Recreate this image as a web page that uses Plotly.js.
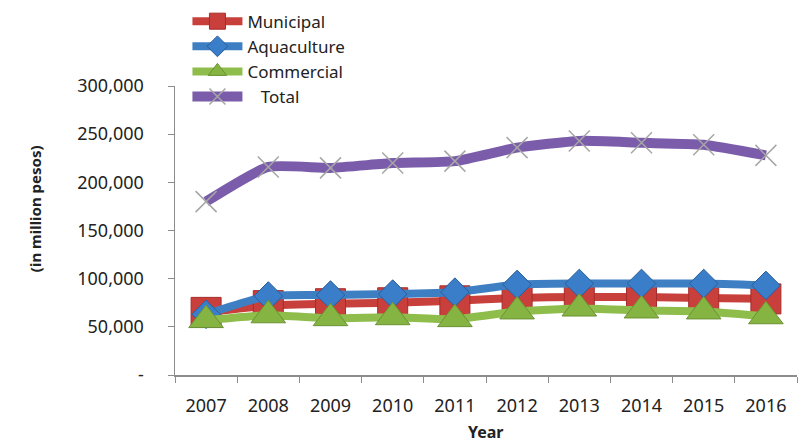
<!DOCTYPE html>
<html>
<head>
<meta charset="utf-8">
<script src="https://cdn.plot.ly/plotly-3.0.1.min.js"></script>
<style>html,body{margin:0;padding:0;background:#fff;}#chart{width:798px;height:444px;}</style>
</head>
<body>
<div id="chart"></div>
<script>
var years = ['2007','2008','2009','2010','2011','2012','2013','2014','2015','2016'];
var municipal   = [65000, 72000, 74000, 75000, 77000, 80000, 81000, 81000, 80000, 79000];
var aquaculture = [63000, 82000, 83000, 84000, 86000, 94000, 95000, 95000, 95000, 93000];
var commercial  = [57000, 62000, 59000, 60000, 58000, 66000, 69000, 67000, 66000, 61000];
var total       = [180000, 216000, 215000, 220000, 222000, 236000, 243000, 241000, 239000, 228000];
var yTickVals = [0, 50000, 100000, 150000, 200000, 250000, 300000];
var yTickText = ['-', '50,000', '100,000', '150,000', '200,000', '250,000', '300,000'];

var FONT = 'Noto Sans, Open Sans, sans-serif';

var traces = [
  {x: years, y: municipal, name: 'Municipal', type: 'scatter', mode: 'lines+markers',
   line: {color: '#C8403C', width: 8, shape: 'spline', smoothing: 0.5},
   marker: {symbol: 'square', size: 30, color: '#C93F3B', line: {color: '#A52C2A', width: 1}}},
  {x: years, y: aquaculture, name: 'Aquaculture', type: 'scatter', mode: 'lines+markers',
   line: {color: '#3E7FC4', width: 8, shape: 'spline', smoothing: 0.5},
   marker: {symbol: 'diamond', size: 22, color: '#3A7DC9', line: {color: '#2A5E9A', width: 1}}},
  {x: years, y: commercial, name: 'Commercial', type: 'scatter', mode: 'lines+markers',
   line: {color: '#8FBD4C', width: 8, shape: 'spline', smoothing: 0.5},
   marker: {symbol: 'triangle-up', size: 30, color: '#86B442', line: {color: '#6A9232', width: 1}}},
  {x: years, y: total, name: '\u00a0\u00a0\u00a0Total', type: 'scatter', mode: 'lines+markers',
   line: {color: '#7A5CAA', width: 10, shape: 'spline', smoothing: 0.5},
   marker: {symbol: 'x-thin', size: 21, color: '#a0a0a0', line: {color: '#a6a6a6', width: 1.5}}}
];

var layout = {
  width: 798, height: 444,
  margin: {l: 175, r: 1, t: 86, b: 69, pad: 0},
  paper_bgcolor: '#ffffff', plot_bgcolor: '#ffffff',
  font: {family: FONT, size: 18, color: '#222222'},
  showlegend: true,
  legend: {x: 0.02, y: 1.285, xanchor: 'left', yanchor: 'top', bgcolor: 'rgba(0,0,0,0)',
           font: {family: FONT, size: 17, color: '#222222'}, itemwidth: 50, tracegroupgap: 0},
  xaxis: {type: 'category', range: [-0.5, 9.5], showgrid: false, zeroline: false,
          showline: true, linecolor: '#8c8c8c', linewidth: 1.5,
          ticks: 'outside', ticklen: 6, tickcolor: '#8c8c8c', tickson: 'boundaries',
          ticklabelstandoff: 14,
          tickfont: {family: FONT, size: 18, color: '#222222'}},
  yaxis: {range: [0, 300000], showgrid: false, zeroline: false,
          showline: true, linecolor: '#8c8c8c', linewidth: 1.5,
          ticks: 'outside', ticklen: 6, tickcolor: '#8c8c8c',
          tickvals: yTickVals, ticktext: yTickText, ticklabelstandoff: 20,
          tickfont: {family: FONT, size: 18, color: '#222222'}},
  annotations: [
    {text: '<b>Year</b>', xref: 'paper', yref: 'paper', x: 0.5, y: -0.197,
     xanchor: 'center', yanchor: 'middle', showarrow: false,
     font: {family: FONT, size: 16, color: '#222222'}},
    {text: '<b>(in million pesos)</b>', xref: 'paper', yref: 'paper', x: -0.225, y: 0.574,
     xanchor: 'center', yanchor: 'middle', showarrow: false, textangle: -90,
     font: {family: FONT, size: 15, color: '#222222'}}
  ]
};

Plotly.newPlot('chart', traces, layout, {displayModeBar: false, staticPlot: true});
</script>
</body>
</html>
